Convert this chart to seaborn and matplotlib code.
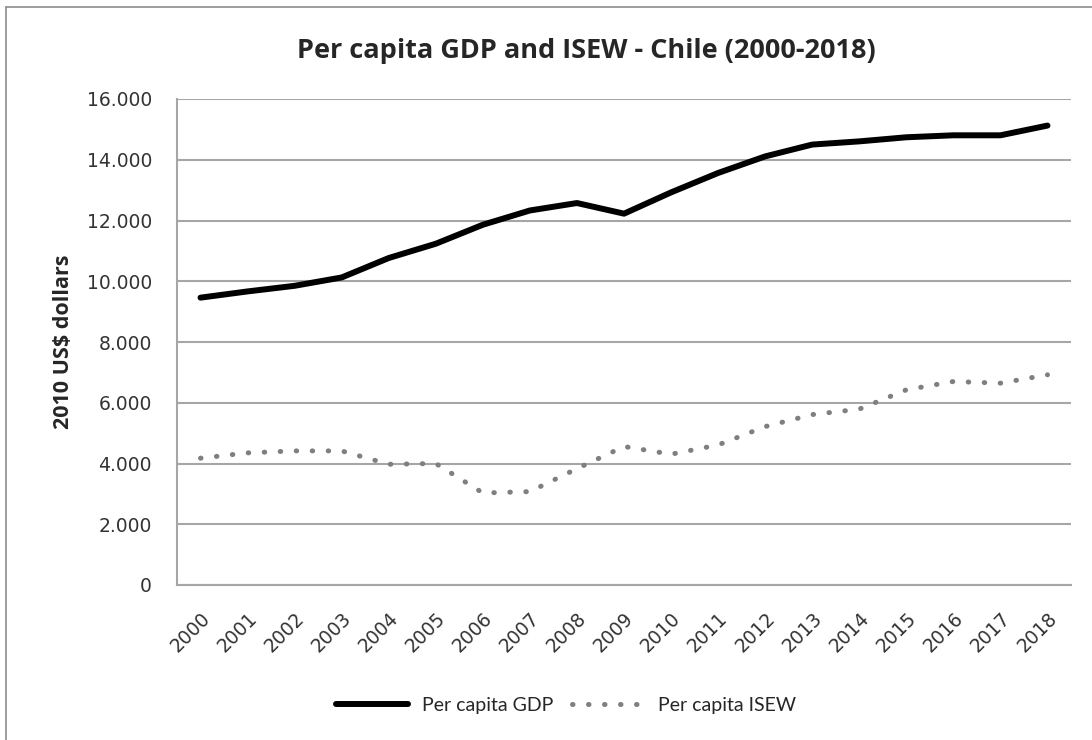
import matplotlib
matplotlib.use('Agg')
import matplotlib.pyplot as plt
from matplotlib.lines import Line2D
from matplotlib.ticker import FuncFormatter
import pandas as pd
import seaborn as sns

# values (2010 US$)
years = list(range(2000, 2019))
gdp = [9460, 9665, 9850, 10125, 10765, 11235, 11860, 12330, 12575, 12225,
       12925, 13565, 14110, 14500, 14605, 14740, 14805, 14805, 15125]
isew = [4175, 4350, 4415, 4415, 3975, 4000, 3030, 3075, 3830, 4560,
        4305, 4610, 5215, 5610, 5790, 6425, 6700, 6645, 6920]

df = pd.DataFrame({'year': years, 'gdp': gdp, 'isew': isew})

sns.set_style('white')
plt.rcParams['font.family'] = ['DejaVu Sans']

fig = plt.figure(figsize=(10.92, 7.40), dpi=100)
ax = fig.add_axes([177 / 1092, 1 - 585 / 740, 894 / 1092, 486 / 740])

grid_col = '#a6a6a6'
sns.lineplot(data=df, x='year', y='gdp', ax=ax, color='black', lw=4.3,
             solid_capstyle='round', solid_joinstyle='round', label='Per capita GDP')
sns.lineplot(data=df, x='year', y='isew', ax=ax, color='#7f7f7f', lw=3.6,
             linestyle=(0, (0.1, 3.1)), dash_capstyle='round', label='Per capita ISEW')

ax.set_xlim(1999.5, 2018.5)
ax.set_ylim(0, 16000)
ax.set_yticks(range(0, 16001, 2000))
ax.yaxis.set_major_formatter(FuncFormatter(lambda v, p: f'{int(v):,}'.replace(',', '.')))
ax.set_xticks(years)
ax.set_xticklabels([str(y) for y in years], rotation=45, ha='right', va='top',
                   rotation_mode='anchor', fontsize=13.5, color='#333333')
ax.tick_params(axis='y', labelsize=13.5, labelcolor='#333333', length=0, pad=18)
ax.tick_params(axis='x', length=0, pad=17)

ax.yaxis.grid(True, color=grid_col, lw=1.5)
ax.set_axisbelow(True)
for s in ['top', 'right']:
    ax.spines[s].set_visible(False)
for s in ['left', 'bottom']:
    ax.spines[s].set_color(grid_col)
    ax.spines[s].set_linewidth(1.5)

ax.set_xlabel('')
ax.set_ylabel('2010 US$ dollars', fontsize=15.5, fontweight='bold', family='Open Sans',
              labelpad=9)

fig.text(586 / 1092, 1 - 51 / 740, 'Per capita GDP and ISEW - Chile (2000-2018)',
         ha='center', va='center', fontsize=19.5, fontweight='bold', family='Open Sans')

ax.get_legend().remove()
handles, labels = ax.get_legend_handles_labels()
fig.legend(handles, labels, loc='center', bbox_to_anchor=(566 / 1092, 1 - 705 / 740),
           ncol=2, frameon=False, handlelength=3.7, columnspacing=1.0, handletextpad=0.7,
           prop={'family': 'Lato', 'size': 14})

# chart-area border (left and top edges visible in the reference)
fig.add_artist(Line2D([6 / 1092, 6 / 1092], [0, 1 - 7 / 740], color='#8c8c8c', lw=1.2))
fig.add_artist(Line2D([6 / 1092, 1], [1 - 7 / 740, 1 - 7 / 740], color='#8c8c8c', lw=1.2))

fig.savefig('out.png', dpi=100)
